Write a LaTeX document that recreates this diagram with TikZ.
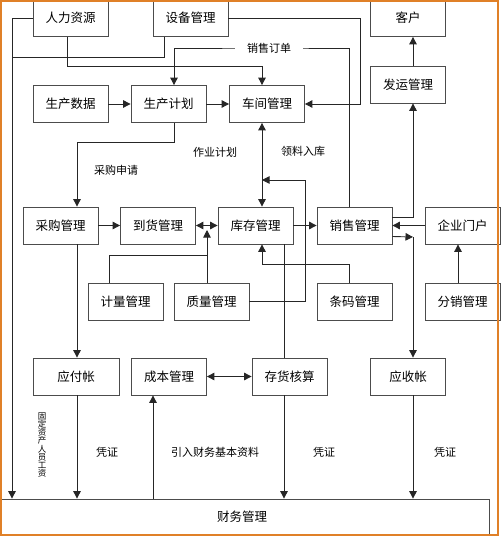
\documentclass[tikz,border=0pt]{standalone}
\usepackage{fontspec}
\usepackage{tikz}
\usetikzlibrary{arrows.meta}
\setmainfont{Noto Sans CJK SC}
\definecolor{frame-orange}{RGB}{224,128,40}
\tikzset{
    mgmt-box/.style = {draw=black!70, fill=white, line width=0.8pt, rectangle, minimum width=75pt, minimum height=37pt, inner sep=0pt, font=\fontsize{12.5}{14}\selectfont},
    flow-label/.style = {font=\fontsize{11}{13}\selectfont, inner sep=1pt},
    flow/.style = {draw=black!85, line width=0.9pt},
}

\begin{document}
\begin{tikzpicture}[x=1pt, y=-1pt, >={Triangle[length=7.5pt,width=7.5pt]}]
\useasboundingbox (0,0) rectangle (500,537);
\node[mgmt-box] (hr) at (70.5,18) {人力资源};
\node[mgmt-box] (equip) at (190.5,18) {设备管理};
\node[mgmt-box] (customer) at (408,18) {客户};
\node[mgmt-box] (proddata) at (70.5,104) {生产数据};
\node[mgmt-box] (prodplan) at (168.5,104) {生产计划};
\node[mgmt-box] (workshop) at (267,104) {车间管理};
\node[mgmt-box] (shipping) at (408,84.5) {发运管理};
\node[mgmt-box] (purchase) at (60.5,225.5) {采购管理};
\node[mgmt-box] (arrival) at (158,225.5) {到货管理};
\node[mgmt-box] (stock) at (255.5,225.5) {库存管理};
\node[mgmt-box] (sales) at (354.5,225.5) {销售管理};
\node[mgmt-box] (portal) at (462.5,225.5) {企业门户};
\node[mgmt-box] (metering) at (125.5,301.5) {计量管理};
\node[mgmt-box] (quality) at (211.5,301.5) {质量管理};
\node[mgmt-box] (barcode) at (354.5,301.5) {条码管理};
\node[mgmt-box] (distrib) at (462.5,301.5) {分销管理};
\node[mgmt-box, minimum width=86pt] (payable) at (76,376.5) {应付帐};
\node[mgmt-box] (cost) at (169,376.5) {成本管理};
\node[mgmt-box] (inventory) at (289.5,376.5) {存货核算};
\node[mgmt-box] (receivable) at (408,376.5) {应收帐};
\node[mgmt-box, minimum width=494pt, minimum height=35pt] (finance) at (242,516.5) {财务管理};

\coordinate (rail-join) at (12,57);
\coordinate (ws-join) at (262,180);
\coordinate (as-join) at (207,230);
\coordinate (mq-join) at (207,255);
\coordinate (ship-join) at (413,237);

\draw[flow, ->] (hr.west) -| (finance.north -| 12,0);
\draw[flow] ([xshift=-26.5pt]equip.south) |- (rail-join);
\draw[flow, ->] (equip.east) -- (360,18) |- (workshop.east);
\draw[flow, ->] ([xshift=-3.5pt]hr.south) |- (262,66) -- (workshop.north -| 262,0);
\draw[flow, ->] (sales.north -| 349,0) |- (269,48) node[flow-label, fill=white, inner xsep=12pt] (lbl-order) {销售订单} -| (prodplan.north -| 174,0);
\draw[flow, ->] (proddata) -- (prodplan);
\draw[flow, ->] (prodplan) -- (workshop);
\draw[flow, ->] (prodplan.south -| 174,0) |- (77,142) -- (purchase.north -| 77,0);
\draw[flow, <->] (workshop.south -| 262,0) -- (stock.north -| 262,0);
\draw[flow, ->] (quality.east) -| (305,180) -- (ws-join);
\draw[flow, ->] (purchase) -- (arrival);
\draw[flow, <->] (arrival) -- (stock);
\draw[flow, ->] (stock) -- (sales);
\draw[flow, ->] (quality.north -| 207,0) -- (as-join);
\draw[flow] (metering.north -| 109,0) |- (mq-join);
\draw[flow, ->] (barcode.north -| 349,0) |- (262,264) -- (stock.south -| 262,0);
\draw[flow] (stock.south -| 284,0) -- (inventory.north -| 284,0);
\draw[flow, ->] ([yshift=8.5pt]sales.east) -| (shipping.south -| 413,0);
\draw[flow, ->] ([yshift=-11pt]sales.east) -- (ship-join);
\draw[flow, ->] (ship-join) -- (receivable.north -| 413,0);
\draw[flow, ->] (shipping.north -| 413,0) -- (customer.south -| 413,0);
\draw[flow, ->] (portal) -- (sales);
\draw[flow, ->] (distrib.north -| 458,0) -- (portal.south -| 458,0);
\draw[flow, ->] (purchase.south -| 77,0) -- (payable.north -| 77,0);
\draw[flow, ->] (payable.south -| 77,0) -- (finance.north -| 77,0);
\draw[flow, ->] (finance.north -| 153,0) -- (cost.south -| 153,0);
\draw[flow, <->] (cost) -- (inventory);
\draw[flow, ->] (inventory.south -| 284,0) -- (finance.north -| 284,0);
\draw[flow, ->] (receivable.south -| 413,0) -- (finance.north -| 413,0);

\node[flow-label] (lbl-request) at (116,170) {采购申请};
\node[flow-label] (lbl-jobplan) at (215,152) {作业计划};
\node[flow-label] (lbl-picking) at (303,151) {领料入库};
\node[flow-label, font=\fontsize{8.5}{8.2}\selectfont, align=center] (lbl-assets) at (42,445) {固\\定\\资\\产\\人\\员\\工\\资};
\node[flow-label] (lbl-voucher1) at (107,452) {凭证};
\node[flow-label] (lbl-import) at (215,452) {引入财务基本资料};
\node[flow-label] (lbl-voucher2) at (324,452) {凭证};
\node[flow-label] (lbl-voucher3) at (445,452) {凭证};

\draw[frame-orange, line width=2pt] (1,1) rectangle (498,535);
\end{tikzpicture}
\end{document}
